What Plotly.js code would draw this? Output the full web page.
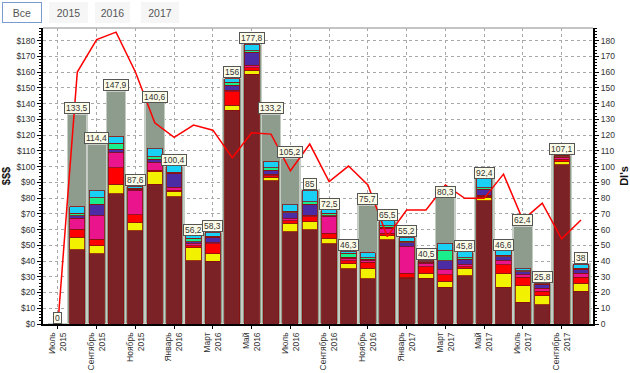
<!DOCTYPE html>
<html>
<head>
<meta charset="utf-8">
<script src="https://cdn.plot.ly/plotly-3.0.1.min.js"></script>
<style>
html,body{margin:0;padding:0;background:#fff;}
#chart{width:630px;height:373px;}
</style>
</head>
<body>
<div id="chart"></div>
<script>
// ---- data ----
var months = ['2015-07','2015-08','2015-09','2015-10','2015-11','2015-12',
  '2016-01','2016-02','2016-03','2016-04','2016-05','2016-06','2016-07','2016-08','2016-09','2016-10','2016-11','2016-12',
  '2017-01','2017-02','2017-03','2017-04','2017-05','2017-06','2017-07','2017-08','2017-09','2017-10'];
var tickMonths = ['2015-07','2015-09','2015-11','2016-01','2016-03','2016-05','2016-07','2016-09','2016-11','2017-01','2017-03','2017-05','2017-07','2017-09'];
var tickLabels = ['Июль<br>2015','Сентябрь<br>2015','Ноябрь<br>2015','Январь<br>2016','Март<br>2016','Май<br>2016','Июль<br>2016',
  'Сентябрь<br>2016','Ноябрь<br>2016','Январь<br>2017','Март<br>2017','Май<br>2017','Июль<br>2017','Сентябрь<br>2017'];

var totals = [0,133.5,114.4,147.9,87.6,140.6,100.4,56.2,58.3,156,177.8,133.2,105.2,85,72.5,46.3,75.7,65.5,55.2,40.5,80.3,45.8,92.4,46.6,62.4,25.8,107.1,38];

var seg1 = [0,47.1,44.5,82.6,59.1,88.9,80.9,40.3,39.7,135.8,158.6,91.0,58.7,59.8,50.9,35.0,28.7,53.4,29.1,29.1,23.4,30.6,78.3,23.2,13.7,12.2,101,20.7];
var seg2 = [0,8,5.1,6.3,5.3,7.8,3.1,8.2,4.9,3.2,2.5,2.2,5.3,5.2,3.6,3.2,6.8,2.6,0.5,3.2,3.6,4.9,2.2,8.7,10.6,5.7,2.1,5.3];
var seg3 = [0,5,4.3,10.3,4.9,1.1,1.0,1.2,6.3,8.4,1.5,1.0,1.7,3.2,3.2,2.1,3.8,1.7,2.7,4.2,4.2,1.0,0.7,5.7,5.5,2.8,1.4,3.8];
var seg4 = [0,7,14.9,9.6,15.4,4.6,1.8,1.2,0.8,1.1,1.7,1.0,1.0,1.0,10.5,1.5,0.8,3.1,16.9,1.7,3.2,1.0,0.7,2.7,1.4,2.1,1.3,2.5];
var seg5 = [0,1.5,7.2,2.3,0.8,2.1,8.9,1.5,3.4,3.1,8.4,2.5,4.0,7.0,0.5,0.7,1.1,0.8,2.5,1.1,5.9,3.7,3.6,2.5,2.1,2.1,0.5,2.6];
var seg6 = [0,1.7,4.2,3.6,0.7,1.7,0.8,2.1,0.6,2.1,1.0,1.5,1.0,1.5,1.5,2.5,0.8,0.8,0.8,0.3,6.3,1.0,1.0,0.8,0.6,0.4,0.5,0.6];
var seg7 = [0,4.2,4.9,4.2,1.4,5.3,3.9,1.7,2.6,2.2,4.1,3.8,4.3,7.3,2.3,1.3,3.4,3.1,2.5,0.9,4.7,3.6,6.0,3.0,1.6,0.5,0.3,2.5];

var dis = [0,160,180.6,185.4,160.1,127.8,118.5,126.3,123.1,105.6,121.4,120.6,97.3,114.3,90.5,100.3,88.3,55.5,72.4,72.4,88.3,79.8,79.8,95.2,66.1,76.7,54.1,66.1];

var segColors = ['#7b2226','#f2f200','#ff0000','#ea148c','#4b2ca4','#1aee8c','#19d0f5'];
var segData = [seg1,seg2,seg3,seg4,seg5,seg6,seg7];

// ---- traces ----
var traces = [];
traces.push({
  type:'bar', x:months, y:totals, xaxis:'x', yaxis:'y', width:1.0,
  marker:{color:'#8e9c8e', line:{color:'#c4ccc4', width:1.5}},
  hoverinfo:'y', showlegend:false
});
segData.forEach(function(d,i){
  traces.push({
    type:'bar', x:months, y:d, xaxis:'x2', yaxis:'y', width:0.78,
    marker:{color:segColors[i], line:{color:'#8a1010', width:0.8}},
    showlegend:false
  });
});
traces.push({
  type:'scatter', mode:'lines', x:months, y:dis, xaxis:'x2', yaxis:'y2',
  line:{color:'#ff0000', width:1.5}, showlegend:false
});

// ---- annotations ----
var ann = totals.map(function(v,i){
  return {
    x:months[i], y:v, xref:'x', yref:'y', yanchor:'bottom', xanchor:'center',
    text:String(v).replace('.',','), showarrow:false,
    font:{family:'Liberation Sans, Arial', size:8.5, color:'#333'},
    bgcolor:'#fbfbe8', bordercolor:'#555', borderwidth:1, borderpad:1, height:8
  };
});
var buttons = [
  {t:'Все', x:-0.0382, sel:true, w:34},
  {t:'2015', x:0.0464, sel:false, w:33},
  {t:'2016', x:0.1264, sel:false, w:29},
  {t:'2017', x:0.2127, sel:false, w:32}
];
buttons.forEach(function(b){
  ann.push({
    x:b.x, y:1.0507, xref:'paper', yref:'paper', xanchor:'center', yanchor:'middle',
    text:b.t, showarrow:false, width:b.w, height:15,
    font:{family:'Liberation Sans, Arial', size:10.5, color:'#555'},
    bgcolor:b.sel?'#ffffff':'#f6f6f6', bordercolor:b.sel?'#7a9ad0':'#f6f6f6',
    borderwidth:1, borderpad:2
  });
});

var gridDash = '3px,3px';
var layout = {
  width:630, height:373,
  margin:{l:43, r:37, t:28, b:49, pad:0},
  paper_bgcolor:'#ffffff', plot_bgcolor:'#ffffff',
  barmode:'stack', bargap:0,
  font:{family:'Liberation Sans, Arial', size:8.5, color:'#333'},
  xaxis:{
    type:'category', categoryorder:'array', categoryarray:months,
    range:[-0.77, 27.62], tickmode:'array', tickvals:tickMonths, ticktext:tickLabels,
    tickangle:-90, tickfont:{size:8.5, color:'#333'},
    showgrid:true, gridcolor:'#a8a8a8', griddash:gridDash, gridwidth:1,
    showline:true, linecolor:'#000', linewidth:2, ticks:'outside', ticklen:3, tickcolor:'#000',
    zeroline:false, fixedrange:true
  },
  xaxis2:{
    type:'category', categoryorder:'array', categoryarray:months,
    range:[-0.77, 27.62], overlaying:'x', visible:false, fixedrange:true
  },
  yaxis:{
    range:[0,188], dtick:10, tick0:0, tickprefix:'$',
    showgrid:true, gridcolor:'#a8a8a8', griddash:gridDash, gridwidth:1,
    showline:true, linecolor:'#000', linewidth:2, ticks:'outside', ticklen:4, tickcolor:'#000',
    minor:{ticks:'outside', dtick:2, ticklen:2, tickcolor:'#000', showgrid:false},
    zeroline:false, tickfont:{size:8.5, color:'#333'},
    title:{text:'$$$', font:{size:11, color:'#111', family:'Liberation Sans, Arial', weight:'bold'}, standoff:6},
    fixedrange:true
  },
  yaxis2:{
    range:[0,188], dtick:10, tick0:0, overlaying:'y', side:'right',
    showgrid:false, showline:true, linecolor:'#000', linewidth:2, ticks:'outside', ticklen:4, tickcolor:'#000',
    minor:{ticks:'outside', dtick:2, ticklen:2, tickcolor:'#000', showgrid:false},
    zeroline:false, tickfont:{size:8.5, color:'#333'},
    title:{text:"DI's", font:{size:11, color:'#111', family:'Liberation Sans, Arial', weight:'bold'}, standoff:6},
    fixedrange:true
  },
  shapes:[
    {type:'line', xref:'paper', yref:'paper', x0:0, x1:1, y0:1, y1:1, line:{color:'#b0b0b0', width:1.5}}
  ],
  annotations:ann
};

Plotly.newPlot('chart', traces, layout, {displayModeBar:false, staticPlot:true});
</script>
</body>
</html>
